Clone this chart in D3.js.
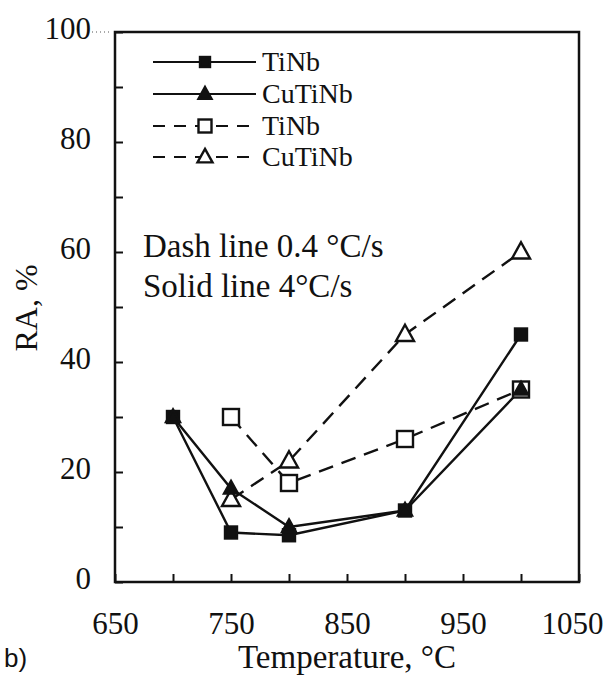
<!DOCTYPE html>
<html>
<head>
<meta charset="utf-8">
<script src="https://cdn.jsdelivr.net/npm/d3@7"></script>
<style>
  html, body { margin: 0; padding: 0; background: #fff; }
  svg { display: block; }
</style>
</head>
<body>
<svg id="chart" width="608" height="675"></svg>
<script>
// ---- data ----
const tempsSolid = [700, 750, 800, 900, 1000];
const tinbSolid = [30, 9, 8.5, 13, 45];
const cutinbSolid = [30, 17, 10, 13, 35];
const tempsDash = [750, 800, 900, 1000];
const tinbDash = [30, 18, 26, 35];
const cutinbDash = [15, 22, 45, 60];
const xTickValues = [650, 700, 750, 800, 850, 900, 950, 1000, 1050];
const xTickLabels = ["650", "750", "850", "950", "1050"];
const yTickValues = [0, 10, 20, 30, 40, 50, 60, 70, 80, 90, 100];
const yTickLabels = ["0", "20", "40", "60", "80", "100"];
const legendLabels = ["TiNb", "CuTiNb", "TiNb", "CuTiNb"];
const noteLines = ["Dash line 0.4 \u00B0C/s", "Solid line 4\u00B0C/s"];
const xTitle = "Temperature, \u00B0C";
const yTitle = "RA, %";
const panelLabel = "b)";

// ---- layout ----
const L = 115, R = 579, T = 32, B = 582;
const serif = "'Liberation Serif', 'Times New Roman', serif";
const svg = d3.select("#chart");
const x = d3.scaleLinear().domain([650, 1050]).range([L, R]);
const y = d3.scaleLinear().domain([0, 100]).range([B, T]);

// axes (ticks inward)
const xAxis = d3.axisBottom(x).tickValues(xTickValues).tickSize(-8).tickFormat(d => xTickLabels.includes(String(d)) ? String(d) : "").tickPadding(24);
const yAxis = d3.axisLeft(y).tickValues(yTickValues).tickSize(-8).tickFormat(d => yTickLabels.includes(String(d)) ? String(d) : "").tickPadding(24);

const gx = svg.append("g").attr("transform", `translate(0,${B})`).call(xAxis);
const gy = svg.append("g").attr("transform", `translate(${L},0)`).call(yAxis);
[gx, gy].forEach(g => {
  g.select(".domain").remove();
  g.selectAll(".tick line").attr("stroke", "#111").attr("stroke-width", 2);
  g.selectAll(".tick text").attr("fill", "#111").style("font-family", serif).style("font-size", "31px");
});
gx.selectAll(".tick text").attr("dy", "0.9em");
gx.selectAll(".tick").filter(d => d === 1050).select("text").attr("text-anchor", "end").attr("x", 24);
gy.selectAll(".tick text").attr("dy", "0.22em");

// frame
svg.append("rect").attr("x", L).attr("y", T).attr("width", R - L).attr("height", B - T)
  .attr("fill", "none").attr("stroke", "#111").attr("stroke-width", 2.5);
// dotted leader from "100"
svg.append("line").attr("x1", 92).attr("x2", L - 3).attr("y1", y(100)).attr("y2", y(100))
  .attr("stroke", "#555").attr("stroke-width", 1).attr("stroke-dasharray", "1,3");

// series
const series = [
  { xs: tempsDash, ys: tinbDash, dash: "15,9", marker: "sq", fill: "#fff", size: 16 },
  { xs: tempsDash, ys: cutinbDash, dash: "15,9", marker: "tri", fill: "#fff", size: 18 },
  { xs: tempsSolid, ys: tinbSolid, dash: null, marker: "sq", fill: "#111", size: 12 },
  { xs: tempsSolid, ys: cutinbSolid, dash: null, marker: "tri", fill: "#111", size: 14 }
];
const line = d3.line().x(d => x(d[0])).y(d => y(d[1]));

function drawMarker(g, type, cx, cy, s, fill) {
  if (type === "sq") {
    g.append("rect").attr("x", cx - s / 2).attr("y", cy - s / 2).attr("width", s).attr("height", s)
      .attr("fill", fill).attr("stroke", "#111").attr("stroke-width", 2.4);
  } else {
    const h = s * 0.9;
    g.append("path")
      .attr("d", `M${cx},${cy - h * 0.6}L${cx + s / 2},${cy + h * 0.4}L${cx - s / 2},${cy + h * 0.4}Z`)
      .attr("fill", fill).attr("stroke", "#111").attr("stroke-width", 2.4).attr("stroke-linejoin", "miter");
  }
}

series.forEach(s => {
  const pts = s.xs.map((t, i) => [t, s.ys[i]]);
  svg.append("path").datum(pts).attr("d", line).attr("fill", "none")
    .attr("stroke", "#111").attr("stroke-width", 2.4)
    .attr("stroke-dasharray", s.dash);
});
series.forEach(s => {
  const g = svg.append("g");
  s.xs.forEach((t, i) => drawMarker(g, s.marker, x(t), y(s.ys[i]), s.size, s.fill));
});

// legend
const legendItems = [
  { dash: null, marker: "sq", fill: "#111", size: 10 },
  { dash: null, marker: "tri", fill: "#111", size: 13 },
  { dash: "12,9", marker: "sq", fill: "#fff", size: 13 },
  { dash: "12,9", marker: "tri", fill: "#fff", size: 15 }
];
const legRows = [62, 94, 126, 157];
legendItems.forEach((it, i) => {
  const g = svg.append("g");
  const yy = legRows[i];
  g.append("line").attr("x1", 153).attr("x2", 256).attr("y1", yy).attr("y2", yy)
    .attr("stroke", "#111").attr("stroke-width", 2.2).attr("stroke-dasharray", it.dash);
  drawMarker(g, it.marker, 205, yy, it.size, it.fill);
  g.append("text").attr("x", 262).attr("y", yy).attr("dy", "0.33em")
    .style("font-family", serif).style("font-size", "28px").attr("fill", "#111").text(legendLabels[i]);
});

// annotations
[257, 297].forEach((yy, i) => {
  svg.append("text").attr("x", 143).attr("y", yy)
    .style("font-family", serif).style("font-size", "33px").attr("fill", "#111").text(noteLines[i]);
});

// axis titles
svg.append("text").attr("x", (L + R) / 2).attr("y", 668).attr("text-anchor", "middle")
  .style("font-family", serif).style("font-size", "33px").attr("fill", "#111").text(xTitle);
svg.append("text").attr("transform", "translate(37,308) rotate(-90)").attr("text-anchor", "middle")
  .style("font-family", serif).style("font-size", "32px").attr("fill", "#111").text(yTitle);
svg.append("text").attr("x", 4).attr("y", 667)
  .style("font-family", "'Liberation Sans', Arial, sans-serif").style("font-size", "26px").attr("fill", "#111").text(panelLabel);
</script>
</body>
</html>
